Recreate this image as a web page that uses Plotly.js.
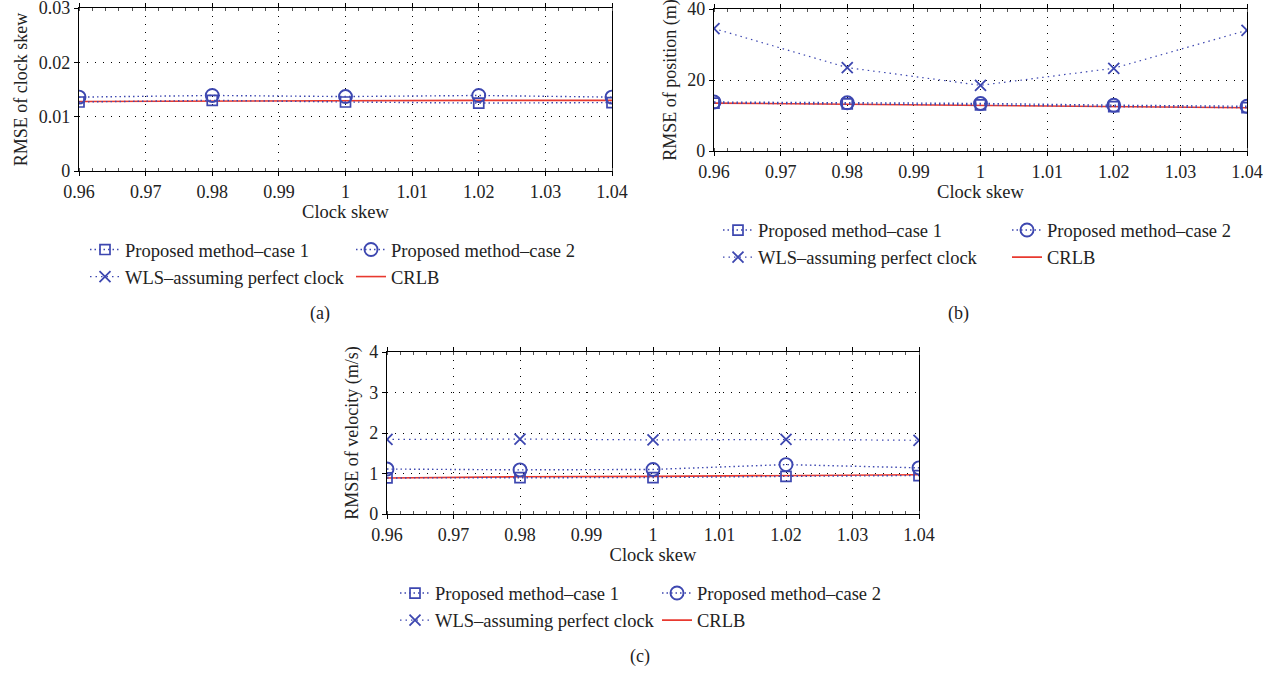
<!DOCTYPE html>
<html>
<head>
<meta charset="utf-8">
<script src="https://cdn.plot.ly/plotly-3.0.1.min.js"></script>
<style>html,body{margin:0;padding:0;background:#fff;}#chart{width:1280px;height:675px;}</style>
</head>
<body>
<div id="chart"></div>
<script>
// ---- data ----
const clockSkew = [0.96, 0.98, 1.00, 1.02, 1.04];
const seriesNames = ["Proposed method\u2013case 1", "Proposed method\u2013case 2", "WLS\u2013assuming perfect clock", "CRLB"];

// (a) RMSE of clock skew
const skewCase1 = [0.0127, 0.0130, 0.0127, 0.0125, 0.0126];
const skewCase2 = [0.0136, 0.0139, 0.0137, 0.0139, 0.0136];
const skewWLS   = [null, null, null, null, null]; // WLS does not estimate clock skew
const skewCRLB  = [0.0128, 0.0129, 0.0129, 0.0130, 0.0130];

// (b) RMSE of position (m)
const posCase1 = [13.5, 13.3, 13.0, 12.5, 12.2];
const posCase2 = [13.8, 13.6, 13.4, 12.9, 12.6];
const posWLS   = [34.5, 23.5, 18.5, 23.3, 34.0];
const posCRLB  = [13.5, 13.2, 12.8, 12.5, 12.2];

// (c) RMSE of velocity (m/s)
const velCase1 = [0.89, 0.90, 0.90, 0.93, 0.95];
const velCase2 = [1.11, 1.09, 1.10, 1.22, 1.14];
const velWLS   = [1.84, 1.85, 1.83, 1.84, 1.82];
const velCRLB  = [0.89, 0.92, 0.93, 0.95, 0.97];

const xTicks = [0.96, 0.97, 0.98, 0.99, 1, 1.01, 1.02, 1.03, 1.04];
const xTickText = ["0.96", "0.97", "0.98", "0.99", "1", "1.01", "1.02", "1.03", "1.04"];
const skewTicks = [0, 0.01, 0.02, 0.03];
const skewTickText = ["0", "0.01", "0.02", "0.03"];
const posTicks = [0, 20, 40];
const velTicks = [0, 1, 2, 3, 4];

// ---- styles ----
const BLUE = "#3d47b0";
const RED = "#e8392f";
const FONT = "Liberation Serif, DejaVu Serif, serif";
const TXT = "#222";

// legL: legend holding left column (case 1, WLS), legR: right column (case 2, CRLB)
function makeTraces(xa, ya, legL, legR, c1, c2, wls, crlb) {
  return [
    {x: clockSkew, y: crlb, xaxis: xa, yaxis: ya, legend: legR, name: seriesNames[3], legendrank: 2,
     mode: "lines", line: {color: RED, width: 1.6}},
    {x: clockSkew, y: wls, xaxis: xa, yaxis: ya, legend: legL, name: seriesNames[2], legendrank: 2,
     mode: "lines+markers", line: {color: BLUE, width: 1.2, dash: "1.5px,4px"},
     marker: {symbol: "x-thin-open", size: 11, color: BLUE, line: {color: BLUE, width: 1.8}}},
    {x: clockSkew, y: c1, xaxis: xa, yaxis: ya, legend: legL, name: seriesNames[0], legendrank: 1,
     mode: "lines+markers", line: {color: BLUE, width: 1.4, dash: "1.5px,3px"},
     marker: {symbol: "square-open", size: 10, color: BLUE, line: {color: BLUE, width: 1.7}}},
    {x: clockSkew, y: c2, xaxis: xa, yaxis: ya, legend: legR, name: seriesNames[1], legendrank: 1,
     mode: "lines+markers", line: {color: BLUE, width: 1.4, dash: "1.5px,3px"},
     marker: {symbol: "circle-open", size: 13, color: BLUE, line: {color: BLUE, width: 1.9}}}
  ];
}

const data = [].concat(
  makeTraces("x", "y", "legend", "legend2", skewCase1, skewCase2, skewWLS, skewCRLB),
  makeTraces("x2", "y2", "legend3", "legend4", posCase1, posCase2, posWLS, posCRLB),
  makeTraces("x3", "y3", "legend5", "legend6", velCase1, velCase2, velWLS, velCRLB)
);

const W = 1280, H = 675;
const px = v => v / W;
const py = v => 1 - v / H;

function xAxis(l, r, anchor) {
  return {
    domain: [px(l), px(r)], anchor: anchor, range: [0.96, 1.04],
    tickmode: "array", tickvals: xTicks, ticktext: xTickText,
    showline: true, mirror: "ticks", linecolor: "#000", linewidth: 1.2,
    ticks: "outside", ticklen: 4, tickcolor: "#000", ticklabeloverflow: "allow",
    minor: {dtick: 0.002, ticks: "inside", ticklen: 3, tickcolor: "#555", showgrid: false},
    showgrid: true, gridcolor: "#000", gridwidth: 1, griddash: "1px,7px",
    zeroline: false, tickfont: {family: FONT, size: 18, color: TXT},
    title: {text: "Clock skew", font: {family: FONT, size: 18.5, color: TXT}, standoff: 0}
  };
}
function yAxis(t, b, anchor, range, tickvals, ticktext, title) {
  return {
    domain: [py(b), py(t)], anchor: anchor, range: range,
    tickmode: "array", tickvals: tickvals, ticktext: ticktext,
    showline: true, mirror: true, linecolor: "#000", linewidth: 1.2,
    ticks: "outside", ticklen: 4, tickcolor: "#000", ticklabeloverflow: "allow",
    showgrid: true, gridcolor: "#000", gridwidth: 1, griddash: "1px,7px",
    zeroline: false, tickfont: {family: FONT, size: 18, color: TXT},
    title: {text: title, font: {family: FONT, size: 18, color: TXT}, standoff: 6}
  };
}
function legend(textX, rowY) {
  return {
    x: px(textX - 40), y: py(rowY - 20), xanchor: "left", yanchor: "top",
    orientation: "v", font: {family: FONT, size: 18.5, color: TXT}, bgcolor: "rgba(0,0,0,0)",
    borderwidth: 0, traceorder: "normal", itemwidth: 30
  };
}
function caption(text, x, y) {
  return {text: text, x: px(x), y: py(y), xref: "paper", yref: "paper", xanchor: "center", yanchor: "middle",
          showarrow: false, font: {family: FONT, size: 18, color: TXT}};
}

const layout = {
  width: W, height: H, margin: {l: 0, r: 0, t: 0, b: 0},
  paper_bgcolor: "#fff", plot_bgcolor: "#fff",
  showlegend: true,
  xaxis: xAxis(79, 612, "y"),
  yaxis: yAxis(8, 171, "x", [0, 0.03], skewTicks, skewTickText, "RMSE of clock skew"),
  xaxis2: xAxis(714, 1247, "y2"),
  yaxis2: yAxis(9, 151, "x2", [0, 40], posTicks, posTicks.map(String), "RMSE of position (m)"),
  xaxis3: xAxis(387, 919, "y3"),
  yaxis3: yAxis(352, 514, "x3", [0, 4], velTicks, velTicks.map(String), "RMSE of velocity (m/s)"),
  legend: legend(125, 251),
  legend2: legend(391, 251),
  legend3: legend(758, 231.5),
  legend4: legend(1047, 231.5),
  legend5: legend(435, 594.5),
  legend6: legend(697, 594.5),
  annotations: [
    caption("(a)", 320, 313),
    caption("(b)", 958, 313),
    caption("(c)", 640, 656)
  ]
};

Plotly.newPlot("chart", data, layout, {displayModeBar: false, staticPlot: true});
</script>
</body>
</html>
